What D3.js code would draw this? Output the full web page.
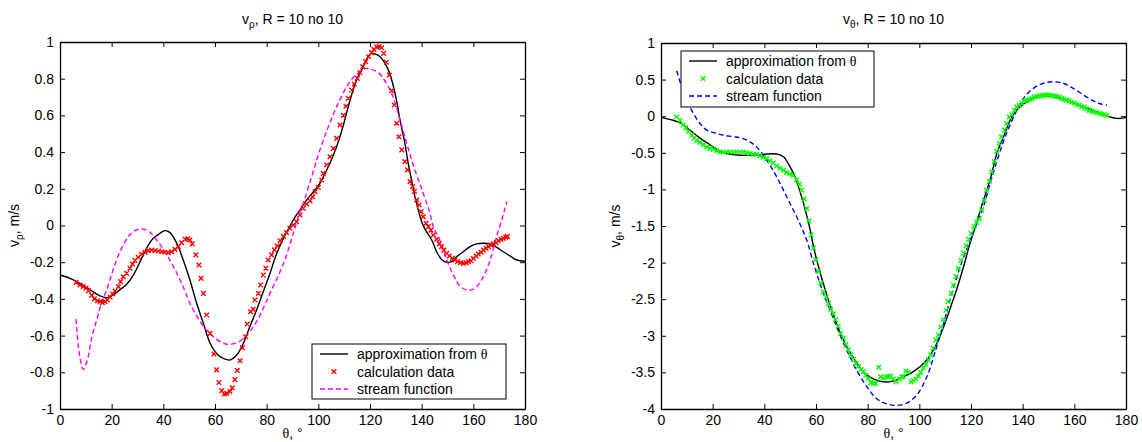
<!DOCTYPE html>
<html>
<head>
<meta charset="utf-8">
<script src="https://cdn.jsdelivr.net/npm/d3@7"></script>
<style>
  body { margin: 0; background: #fff; }
  text { font-family: "Liberation Sans", Arial, sans-serif; }
</style>
</head>
<body>
<script>
// ---- data ----
let xTicks = [0, 20, 40, 60, 80, 100, 120, 140, 160, 180]
let vrTicks = [-1, -0.8, -0.6, -0.4, -0.2, 0, 0.2, 0.4, 0.6, 0.8, 1]
let vtTicks = [-4, -3.5, -3, -2.5, -2, -1.5, -1, -0.5, 0, 0.5, 1]
let legendLabels = ['approximation from ', 'calculation data', 'stream function']

// left: v_rho
let vrApprox = [[0,-0.27],[3.9,-0.288],[7.7,-0.315],[11.6,-0.35],[15.5,-0.384],[18.1,-0.393],[20.5,-0.38],[23.2,-0.35],[25.8,-0.32],
  [28.4,-0.27],[31,-0.197],[33.5,-0.124],[36.1,-0.07],[38.7,-0.043],[40.6,-0.028],[42.6,-0.039],[45.2,-0.097],[47.7,-0.188],
  [50.3,-0.297],[52.9,-0.424],[55.5,-0.533],[58.1,-0.642],[60.6,-0.697],[63.2,-0.724],[65.8,-0.733],[68.4,-0.706],[71,-0.642],
  [73.5,-0.551],[76.1,-0.46],[78.7,-0.36],[81.3,-0.26],[83.9,-0.152],[86.5,-0.07],[89,-0.005],[90.3,0.03],[92.9,0.085],
  [95.5,0.139],[98.1,0.184],[100.6,0.23],[102.6,0.284],[104.5,0.339],[107.1,0.43],[109.7,0.548],[112.3,0.684],[114.8,0.793],
  [117.4,0.866],[119.4,0.924],[120.6,0.938],[121.9,0.935],[123.9,0.92],[126.5,0.866],[128.4,0.793],[130.3,0.68],[131.6,0.575],
  [133.5,0.448],[134.8,0.339],[136.1,0.248],[137.4,0.157],[138.7,0.085],[140,0.021],[141.3,-0.02],[143.9,-0.079],[145.8,-0.143],
  [147.7,-0.185],[149.7,-0.2],[151.6,-0.197],[153.5,-0.17],[156.1,-0.143],[158.7,-0.115],[161.3,-0.1],[163.9,-0.097],
  [166.5,-0.1],[169,-0.119],[171.6,-0.143],[174.2,-0.166],[176.8,-0.188],[180,-0.195]]

let vrCalc = [[6.2,-0.31],[7.7,-0.324],[9,-0.333],[10.1,-0.342],[11,-0.355],[12.3,-0.38],[13.3,-0.4],[14.5,-0.41],[15.5,-0.415],
  [16.4,-0.42],[17.4,-0.415],[18.3,-0.406],[19.4,-0.39],[20.4,-0.373],[21.3,-0.357],[22.6,-0.333],[23.5,-0.306],[24.5,-0.279],
  [25.8,-0.26],[27.1,-0.233],[28.1,-0.21],[29,-0.19],[30.3,-0.173],[31.6,-0.157],[32.9,-0.146],[34.2,-0.137],[35.5,-0.134],
  [36.8,-0.137],[38.1,-0.139],[39.4,-0.143],[40.6,-0.146],[41.9,-0.148],[43.2,-0.143],[44.5,-0.13],[45.8,-0.115],[47.1,-0.094],
  [48.4,-0.075],[49.4,-0.073],[50.3,-0.079],[51.2,-0.1],[52.6,-0.16],[53.8,-0.215],[54.6,-0.288],[55.5,-0.37],[56.8,-0.488],
  [58.1,-0.588],[59.6,-0.7],[60.6,-0.787],[61.5,-0.856],[62.6,-0.9],[63.6,-0.918],[64.5,-0.915],[65.8,-0.905],[66.7,-0.884],
  [67.7,-0.84],[68.6,-0.79],[69.7,-0.737],[70.6,-0.666],[71.9,-0.606],[72.5,-0.537],[73.8,-0.47],[74.8,-0.457],[75.5,-0.406],
  [76.8,-0.37],[77.7,-0.324],[78.7,-0.27],[79.7,-0.233],[80.6,-0.188],[81.9,-0.16],[83,-0.133],[84.1,-0.112],[85.2,-0.083],
  [86.5,-0.06],[87.7,-0.039],[89,-0.015],[90.3,0.003],[91.6,0.02],[92.9,0.057],[94.2,0.094],[95.5,0.117],[96.8,0.134],
  [97.8,0.157],[98.7,0.184],[100,0.208],[101.3,0.248],[101.9,0.284],[103.2,0.33],[104.5,0.375],[105.8,0.42],[107.1,0.475],
  [108.4,0.548],[109.7,0.6],[110.7,0.65],[111.6,0.693],[112.9,0.738],[113.9,0.771],[115.1,0.802],[116.1,0.833],[117.2,0.866],
  [118.3,0.893],[119.4,0.92],[120.6,0.942],[121.5,0.96],[122.6,0.973],[123.5,0.975],[124.5,0.969],[125.3,0.938],[126.3,0.89],
  [127.5,0.82],[128.4,0.735],[129.4,0.657],[130.3,0.557],[131.2,0.484],[132.3,0.412],[133.5,0.348],[134.5,0.303],[135.5,0.239],
  [136.5,0.212],[137.2,0.185],[138.1,0.139],[139,0.112],[139.8,0.075],[140.6,0.048],[141.7,0.012],[142.6,-0.006],[143.6,-0.025],
  [144.5,-0.052],[145.8,-0.075],[146.8,-0.1],[147.7,-0.115],[148.6,-0.134],[149.7,-0.152],[150.7,-0.166],[151.9,-0.179],
  [152.9,-0.188],[153.9,-0.197],[155.1,-0.203],[156.1,-0.206],[157.2,-0.203],[158.1,-0.197],[159.1,-0.192],[160,-0.179],
  [161.1,-0.166],[161.9,-0.155],[163,-0.146],[163.9,-0.134],[164.9,-0.124],[165.8,-0.115],[166.8,-0.106],[167.7,-0.1],
  [168.8,-0.094],[169.7,-0.083],[170.7,-0.075],[171.6,-0.07],[172.6,-0.064],[173.2,-0.06]]

let vrStream = [[6.2,-0.51],[7.5,-0.7],[9,-0.784],[10.6,-0.733],[12.3,-0.61],[14.2,-0.515],[16.1,-0.42],[18.1,-0.35],[20.6,-0.24],
  [23.2,-0.143],[26.5,-0.06],[29,-0.028],[31.6,-0.019],[34.2,-0.03],[37.4,-0.079],[40.6,-0.143],[43.9,-0.224],[47.1,-0.315],
  [50.3,-0.424],[53.5,-0.506],[56.1,-0.56],[59.4,-0.606],[62.6,-0.638],[65.2,-0.648],[67.7,-0.642],[70.3,-0.624],[72.9,-0.588],
  [76.1,-0.524],[78.7,-0.451],[81.9,-0.351],[85.2,-0.252],[87.7,-0.161],[90.3,-0.043],[92.5,0.06],[94.2,0.121],[97.4,0.266],
  [100.6,0.411],[103.9,0.539],[107.1,0.648],[111,0.757],[113.5,0.807],[116.1,0.838],[118.4,0.856],[120.6,0.851],[123.2,0.833],
  [125.2,0.8],[128.4,0.72],[131.6,0.575],[134.2,0.448],[137.4,0.302],[140.6,0.176],[143.2,0.066],[144.5,-0.006],[147,-0.079],
  [149.7,-0.188],[152.3,-0.27],[154.8,-0.33],[157.4,-0.351],[159.4,-0.351],[161.3,-0.333],[163.9,-0.279],[166.5,-0.188],
  [169,-0.06],[171,0.03],[172,0.08],[173,0.13]]

// right: v_theta
let vtApprox = [[0,-0.02],[4.1,-0.05],[8,-0.1],[11.2,-0.19],[15.1,-0.3],[19,-0.39],[22.2,-0.47],[25.4,-0.51],[29.3,-0.53],
  [33.2,-0.535],[37,-0.53],[40.9,-0.517],[44.8,-0.517],[47.4,-0.553],[49.9,-0.69],[51.9,-0.83],[53.8,-1.03],[55.7,-1.26],
  [57.4,-1.5],[59.6,-1.87],[62.2,-2.21],[64.8,-2.51],[67.4,-2.78],[70.6,-3.06],[74.5,-3.3],[78.3,-3.49],[82.2,-3.59],
  [86.1,-3.63],[89.9,-3.62],[92.5,-3.58],[97.7,-3.49],[102.9,-3.33],[106.1,-3.15],[109.4,-2.88],[112,-2.62],[114.6,-2.35],
  [117.1,-2.06],[119.6,-1.74],[122.2,-1.45],[124.8,-1.15],[127.4,-0.87],[130,-0.51],[132.6,-0.28],[135.8,-0.01],[139,0.13],
  [142.9,0.22],[146.7,0.27],[150.6,0.275],[154.5,0.24],[158.3,0.2],[163.5,0.13],[168.6,0.06],[173.8,-0.01],[176.4,-0.03],
  [180,-0.02]]

let vtCalc = [[6.1,-0.01],[7.4,-0.06],[8.6,-0.12],[9.7,-0.16],[10.6,-0.21],[11.9,-0.26],[12.9,-0.3],[13.8,-0.33],[15.1,-0.36],
  [16.4,-0.39],[17.7,-0.42],[19,-0.44],[20.3,-0.45],[21.5,-0.47],[22.8,-0.49],[24.1,-0.49],[25.4,-0.49],[26.7,-0.49],[28,-0.49],
  [29.3,-0.49],[30.6,-0.49],[31.9,-0.49],[33.2,-0.5],[34.5,-0.51],[35.7,-0.52],[37,-0.52],[38.3,-0.54],[39.6,-0.56],[40.9,-0.58],
  [42.2,-0.61],[43.5,-0.64],[44.8,-0.68],[46.1,-0.71],[47.4,-0.74],[48.6,-0.77],[49.9,-0.79],[51.2,-0.81],[52.5,-0.87],
  [53.5,-0.93],[54.5,-1.01],[55.4,-1.13],[56.4,-1.26],[57.3,-1.43],[58.1,-1.62],[59,-1.8],[59.9,-1.96],[60.9,-2.12],[61.9,-2.28],
  [62.8,-2.4],[63.9,-2.47],[64.8,-2.56],[65.7,-2.64],[66.7,-2.7],[67.6,-2.78],[68.6,-2.87],[69.5,-2.97],[70.6,-3.03],[71.6,-3.12],
  [72.5,-3.19],[73.4,-3.26],[74.5,-3.32],[75.5,-3.38],[76.4,-3.42],[77.4,-3.46],[78.3,-3.49],[79.2,-3.54],[80.3,-3.58],
  [81.2,-3.64],[82.2,-3.65],[83.2,-3.65],[84.3,-3.43],[85,-3.56],[86.1,-3.58],[87.1,-3.56],[88,-3.56],[88.9,-3.55],[89.9,-3.59],
  [91,-3.63],[92.3,-3.59],[93.2,-3.56],[93.8,-3.56],[94.8,-3.48],[95.7,-3.5],[96.8,-3.63],[97.7,-3.61],[98.7,-3.59],[99.6,-3.55],
  [100.5,-3.5],[101.5,-3.44],[102.6,-3.39],[103.5,-3.33],[104.5,-3.26],[105.4,-3.17],[106.3,-3.06],[107.4,-2.99],[108.3,-2.88],
  [109.3,-2.78],[110.3,-2.65],[111.2,-2.53],[112.3,-2.42],[113.2,-2.31],[114.2,-2.19],[115.1,-2.08],[116.1,-1.97],[117.1,-1.87],
  [118.1,-1.77],[119,-1.68],[120,-1.6],[121.2,-1.51],[122.2,-1.45],[123.2,-1.4],[124.1,-1.28],[125.2,-1.15],[126,-1.01],
  [127.1,-0.89],[128,-0.76],[129,-0.62],[129.9,-0.48],[130.9,-0.37],[131.8,-0.28],[132.9,-0.19],[133.8,-0.1],[134.8,-0.01],
  [135.8,0.02],[136.8,0.08],[137.7,0.13],[138.7,0.15],[139.6,0.18],[140.6,0.21],[141.6,0.22],[142.6,0.23],[143.5,0.24],
  [144.5,0.26],[145.4,0.27],[146.5,0.28],[147.4,0.28],[148.4,0.29],[149.3,0.29],[150.3,0.29],[151.2,0.28],[152.3,0.28],
  [153.2,0.27],[154.2,0.26],[155.1,0.24],[156.1,0.23],[157,0.22],[158,0.21],[158.9,0.19],[160,0.18],[160.9,0.16],[161.9,0.15],
  [162.8,0.13],[163.9,0.12],[164.8,0.1],[165.8,0.08],[166.7,0.07],[167.7,0.06],[168.6,0.05],[169.7,0.04],[170.6,0.03],
  [171.6,0.02],[172.6,0.01]]

let vtStream = [[6.1,0.62],[8,0.4],[9.9,0.22],[12.5,0.04],[15.1,-0.1],[17.7,-0.19],[20.9,-0.23],[24.1,-0.26],[28,-0.28],
  [31.2,-0.3],[34.5,-0.35],[37,-0.42],[39.6,-0.53],[42.2,-0.67],[44.8,-0.83],[47.4,-1.01],[49.9,-1.19],[52.5,-1.37],
  [54.5,-1.53],[56.4,-1.69],[59,-2.01],[61.5,-2.28],[64.1,-2.53],[66.7,-2.76],[69.3,-2.99],[72.5,-3.24],[75.7,-3.47],
  [79.6,-3.69],[83.5,-3.86],[87.4,-3.93],[91.2,-3.95],[95.1,-3.92],[99,-3.81],[102.9,-3.56],[106.1,-3.22],[109.4,-2.83],
  [112.6,-2.42],[115.8,-2.06],[119.7,-1.69],[122.5,-1.45],[124.8,-1.24],[127.4,-0.92],[130.6,-0.55],[133.8,-0.23],
  [137.7,0.08],[140.9,0.27],[144.1,0.38],[148,0.45],[151.9,0.47],[155.7,0.45],[159.6,0.38],[163.5,0.29],[167.4,0.21],
  [170,0.17],[172.6,0.15]]

let W = 1142, H = 442

let svg = d3.select('body').append('svg')
  .attr('width', W)
  .attr('height', H)

let drawPanel = (opt) => {
  let x = d3.scaleLinear().domain([0, 180]).range([opt.left, opt.right])
  let y = d3.scaleLinear().domain(opt.yDomain).range([opt.bottom, opt.top])
  let g = svg.append('g')

  // frame with inward ticks on all sides
  let fmt = d => String(d)
  g.append('g').attr('transform', `translate(0,${opt.bottom})`)
    .call(d3.axisBottom(x).tickValues(xTicks).tickSizeInner(-5).tickSizeOuter(0).tickPadding(6).tickFormat(fmt))
  g.append('g').attr('transform', `translate(0,${opt.top})`)
    .call(d3.axisTop(x).tickValues(xTicks).tickSizeInner(-5).tickSizeOuter(0).tickFormat(''))
  g.append('g').attr('transform', `translate(${opt.left},0)`)
    .call(d3.axisLeft(y).tickValues(opt.yTicks).tickSizeInner(-5).tickSizeOuter(0).tickPadding(6).tickFormat(fmt))
  g.append('g').attr('transform', `translate(${opt.right},0)`)
    .call(d3.axisRight(y).tickValues(opt.yTicks).tickSizeInner(-5).tickSizeOuter(0).tickFormat(''))
  g.selectAll('.domain').attr('stroke', '#000').attr('stroke-width', 1.3)
  g.selectAll('.tick line').attr('stroke', '#000')
  g.selectAll('.tick text').attr('font-size', 14).attr('fill', '#000')
    .style('font-family', '"Liberation Sans", Arial, sans-serif')

  let clip = g.append('g')
  let line = d3.line().x(d => x(d[0])).y(d => y(d[1])).curve(d3.curveCatmullRom)

  clip.append('path').datum(opt.approx)
    .attr('d', line).attr('fill', 'none').attr('stroke', '#000').attr('stroke-width', 1.4)
  clip.append('path').datum(opt.stream)
    .attr('d', line).attr('fill', 'none').attr('stroke', opt.streamColor)
    .attr('stroke-width', 1.4).attr('stroke-dasharray', '5,3')

  let s = 2.3
  let cross = (px, py) => `M${px - s},${py - s}L${px + s},${py + s}M${px - s},${py + s}L${px + s},${py - s}`
  clip.append('path')
    .attr('d', opt.calc.map(d => cross(x(d[0]), y(d[1]))).join(''))
    .attr('fill', 'none').attr('stroke', opt.calcColor).attr('stroke-width', 1.4)

  // title
  let cx = (opt.left + opt.right) / 2
  let t = g.append('text').attr('x', cx).attr('y', 24).attr('text-anchor', 'middle')
    .attr('font-size', 14).attr('fill', '#000')
  t.append('tspan').text('v')
  t.append('tspan').attr('dy', 4).attr('font-size', 10).text(opt.sub)
  t.append('tspan').attr('dy', -4).text(', R = 10 no 10')

  // x label
  let xl = g.append('text').attr('x', cx).attr('y', 438).attr('text-anchor', 'middle')
    .attr('font-size', 14).attr('fill', '#000')
  xl.append('tspan').style('font-family', '"Liberation Serif", "DejaVu Serif", serif').text('θ')
  xl.append('tspan').text(', °')

  // y label
  let yl = g.append('text')
    .attr('transform', `translate(${opt.left - 41},${(opt.top + opt.bottom) / 2}) rotate(-90)`)
    .attr('text-anchor', 'middle').attr('font-size', 14).attr('fill', '#000')
  yl.append('tspan').text('v')
  yl.append('tspan').attr('dy', 4).attr('font-size', 10).text(opt.sub)
  yl.append('tspan').attr('dy', -4).text(', m/s')

  // legend
  let L = opt.legend
  let lg = g.append('g')
  lg.append('rect').attr('x', L.x).attr('y', L.y).attr('width', L.w).attr('height', L.h)
    .attr('fill', '#fff').attr('stroke', '#000').attr('stroke-width', 1)
  legendLabels.forEach((lab, i) => {
    let ry = L.y + 10 + i * 17.5
    let x0 = L.x + 8, x1 = L.x + 36
    if (i === 0) lg.append('line').attr('x1', x0).attr('x2', x1).attr('y1', ry).attr('y2', ry)
      .attr('stroke', '#000').attr('stroke-width', 1.4)
    if (i === 1) lg.append('path').attr('d', cross((x0 + x1) / 2, ry))
      .attr('fill', 'none').attr('stroke', opt.calcColor).attr('stroke-width', 1.4)
    if (i === 2) lg.append('line').attr('x1', x0).attr('x2', x1).attr('y1', ry).attr('y2', ry)
      .attr('stroke', opt.streamColor).attr('stroke-width', 1.4).attr('stroke-dasharray', '5,3')
    let tx = lg.append('text').attr('x', L.x + 45).attr('y', ry + 5).attr('font-size', 14).attr('fill', '#000')
    tx.append('tspan').text(lab)
    if (i === 0) tx.append('tspan').style('font-family', '"Liberation Serif", "DejaVu Serif", serif').text('θ')
  })
}

drawPanel({
  left: 60, right: 525, top: 42, bottom: 409,
  yDomain: [-1, 1], yTicks: vrTicks, sub: 'ρ',
  approx: vrApprox, calc: vrCalc, stream: vrStream,
  calcColor: '#ff0000', streamColor: '#ff00ff',
  legend: { x: 312, y: 344, w: 194, h: 55 }
})

drawPanel({
  left: 661, right: 1126, top: 43, bottom: 409,
  yDomain: [-4, 1], yTicks: vtTicks, sub: 'θ',
  approx: vtApprox, calc: vtCalc, stream: vtStream,
  calcColor: '#00ff00', streamColor: '#0000ff',
  legend: { x: 681, y: 51, w: 193, h: 56 }
})
</script>
</body>
</html>
